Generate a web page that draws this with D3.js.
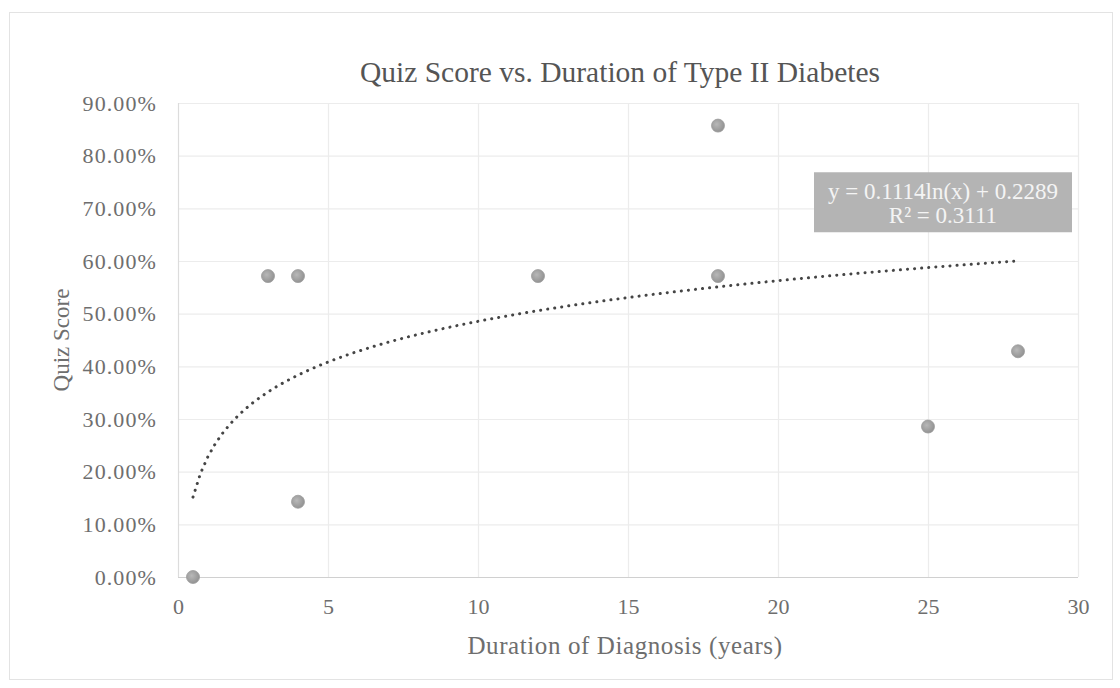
<!DOCTYPE html>
<html>
<head>
<meta charset="utf-8">
<script src="https://cdn.jsdelivr.net/npm/d3@7"></script>
<style>
  body { margin: 0; background: #fff; }
  text { font-family: "Liberation Serif", "DejaVu Serif", serif; fill: #6e6e6e; }
</style>
</head>
<body>
<div id="chart"></div>
<script>
// data
const years  = [0.5, 3, 4, 4, 12, 18, 18, 25, 28];
const scores = [0, 0.5714, 0.5714, 0.1429, 0.5714, 0.8571, 0.5714, 0.2857, 0.4286];
const xTicks = [0, 5, 10, 15, 20, 25, 30];
const yTicks = [0, 0.1, 0.2, 0.3, 0.4, 0.5, 0.6, 0.7, 0.8, 0.9];
// trendline coefficients as printed on the chart
const trendA = 0.1114, trendB = 0.2289;
const trendLabel = ["y = 0.1114ln(x) + 0.2289", "R² = 0.3111"];

const W = 1120, H = 688;
const margin = { top: 103, right: 42, bottom: 111, left: 178 };
const width = W - margin.left - margin.right,
      height = H - margin.top - margin.bottom;

const svg = d3.select("#chart").append("svg")
    .attr("width", W).attr("height", H);

// outer chart frame
svg.append("rect")
    .attr("x", 9.5).attr("y", 12.5).attr("width", 1103).attr("height", 667)
    .attr("fill", "#fff").attr("stroke", "#e3e3e3");

const g = svg.append("g").attr("transform", `translate(${margin.left},${margin.top})`);

const x = d3.scaleLinear().domain([0, 30]).range([0, width]);
const y = d3.scaleLinear().domain([0, 0.9]).range([height, 0]);

// gridlines
g.append("g").selectAll("line").data(yTicks).join("line")
    .attr("x1", 0).attr("x2", width)
    .attr("y1", d => y(d) + 0.5).attr("y2", d => y(d) + 0.5)
    .attr("stroke", d => d === 0 ? "#d0d0d0" : "#ececec").attr("stroke-width", 1.2);
g.append("g").selectAll("line").data(xTicks).join("line")
    .attr("y1", 0).attr("y2", height)
    .attr("x1", d => x(d) + 0.5).attr("x2", d => x(d) + 0.5)
    .attr("stroke", d => d === 0 ? "#dcdcdc" : "#ececec").attr("stroke-width", 1.2);

// axes (labels only)
const yAxis = g.append("g").call(d3.axisLeft(y).tickValues(yTicks).tickFormat(d3.format(".2%")).tickSize(0).tickPadding(21));
yAxis.select(".domain").remove();
yAxis.selectAll("text").style("font-size", "22px").style("letter-spacing", "1.1px")
    .attr("fill", "#747474").attr("font-family", null);

const xAxis = g.append("g").attr("transform", `translate(0,${height})`)
    .call(d3.axisBottom(x).tickValues(xTicks).tickSize(0).tickPadding(21));
xAxis.select(".domain").remove();
xAxis.selectAll("text").style("font-size", "22px").attr("fill", "#747474").attr("font-family", null);

// trendline
const tx = d3.range(0.5, 28.01, 0.25);
const line = d3.line().x(d => x(d)).y(d => y(trendA * Math.log(d) + trendB));
g.append("path").datum(tx)
    .attr("d", line)
    .attr("fill", "none")
    .attr("stroke", "#454545")
    .attr("stroke-width", 3)
    .attr("stroke-linecap", "round")
    .attr("stroke-dasharray", "0.1,7");

// points
const grad = svg.append("defs").append("radialGradient").attr("id", "dot")
    .attr("cx", "40%").attr("cy", "40%").attr("r", "65%");
grad.append("stop").attr("offset", "0%").attr("stop-color", "#b8b8b8");
grad.append("stop").attr("offset", "100%").attr("stop-color", "#909090");

g.append("g").selectAll("circle").data(years).join("circle")
    .attr("cx", d => x(d))
    .attr("cy", (d, i) => y(scores[i]))
    .attr("r", 6.5)
    .attr("fill", "url(#dot)")
    .attr("stroke", "#9c9c9c").attr("stroke-width", 0.8);

// trendline label box
const lb = g.append("g").attr("transform", `translate(${x(21.2)},${y(0.7685)})`);
lb.append("rect").attr("width", 258).attr("height", 60).attr("fill", "#b4b4b4");
lb.selectAll("text").data(trendLabel).join("text")
    .attr("x", 129).attr("y", (d, i) => 27 + i * 24)
    .attr("text-anchor", "middle")
    .style("fill", "#f4f4f4").style("font-size", "23px")
    .text(d => d);

// titles
svg.append("text").attr("x", 620).attr("y", 82)
    .attr("text-anchor", "middle").style("font-size", "29.5px").style("fill", "#555")
    .text("Quiz Score vs. Duration of Type II Diabetes");
svg.append("text").attr("x", 625).attr("y", 654)
    .attr("text-anchor", "middle").style("font-size", "25px").style("letter-spacing", "0.6px")
    .text("Duration of Diagnosis (years)");
svg.append("text")
    .attr("transform", `translate(69,${margin.top + height / 2}) rotate(-90)`)
    .attr("text-anchor", "middle").style("font-size", "23px")
    .text("Quiz Score");
</script>
</body>
</html>
